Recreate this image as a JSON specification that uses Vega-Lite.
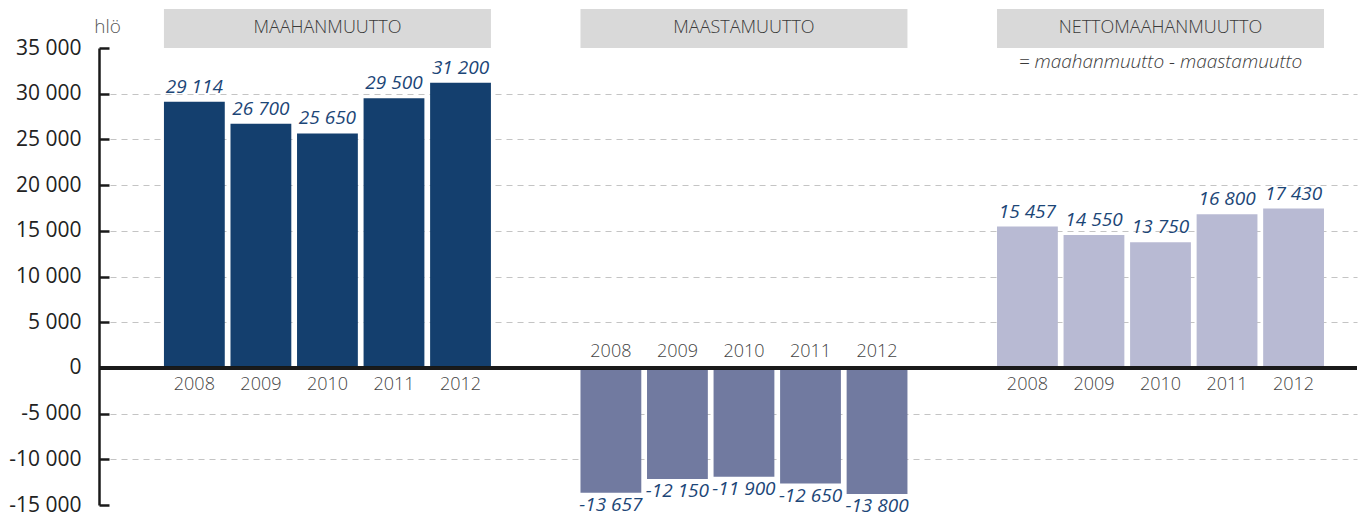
{
  "$schema": "https://vega.github.io/schema/vega-lite/v6.json",
  "autosize": {"type": "none"},
  "width": 1258,
  "height": 457,
  "padding": {"left": 99, "top": 48, "right": 7, "bottom": 15},
  "config": {
    "view": {"stroke": null},
    "font": "Open Sans",
    "locale": {"number": {"decimal": ",", "thousands": " ", "grouping": [3], "currency": ["", " €"], "minus": "-"}}
  },
  "datasets": {
    "bars": [
      {"group": "MAAHANMUUTTO", "year": "2008", "value": 29114},
      {"group": "MAAHANMUUTTO", "year": "2009", "value": 26700},
      {"group": "MAAHANMUUTTO", "year": "2010", "value": 25650},
      {"group": "MAAHANMUUTTO", "year": "2011", "value": 29500},
      {"group": "MAAHANMUUTTO", "year": "2012", "value": 31200},
      {"group": "MAASTAMUUTTO", "year": "2008", "value": -13657},
      {"group": "MAASTAMUUTTO", "year": "2009", "value": -12150},
      {"group": "MAASTAMUUTTO", "year": "2010", "value": -11900},
      {"group": "MAASTAMUUTTO", "year": "2011", "value": -12650},
      {"group": "MAASTAMUUTTO", "year": "2012", "value": -13800},
      {"group": "NETTOMAAHANMUUTTO", "year": "2008", "value": 15457},
      {"group": "NETTOMAAHANMUUTTO", "year": "2009", "value": 14550},
      {"group": "NETTOMAAHANMUUTTO", "year": "2010", "value": 13750},
      {"group": "NETTOMAAHANMUUTTO", "year": "2011", "value": 16800},
      {"group": "NETTOMAAHANMUUTTO", "year": "2012", "value": 17430}
    ],
    "groups": [
      {"group": "MAAHANMUUTTO", "sub": ""},
      {"group": "MAASTAMUUTTO", "sub": ""},
      {"group": "NETTOMAAHANMUUTTO", "sub": "= maahanmuutto - maastamuutto"}
    ]
  },
  "encoding": {
    "x": {
      "field": "group", "type": "nominal",
      "scale": {"domain": ["MAAHANMUUTTO", "MAASTAMUUTTO", "NETTOMAAHANMUUTTO"], "paddingInner": 0.215, "paddingOuter": 0.1176, "align": 0.663},
      "axis": null
    }
  },
  "layer": [
    {
      "data": {"name": "groups"},
      "mark": {"type": "rect", "color": "#d9d9d9"},
      "encoding": {
        "y": {"datum": 39270, "type": "quantitative", "scale": {"domain": [-15000, 35000]}},
        "y2": {"datum": 35000}
      }
    },
    {
      "data": {"name": "groups"},
      "mark": {"type": "text", "font": "Open Sans", "fontSize": 18, "fontWeight": 300, "color": "#3a3a3a", "baseline": "middle"},
      "encoding": {
        "y": {"datum": 37230, "type": "quantitative"},
        "text": {"field": "group"}
      }
    },
    {
      "data": {"name": "groups"},
      "mark": {"type": "text", "font": "Open Sans", "fontSize": 19, "fontStyle": "italic", "fontWeight": 300, "color": "#3a3a3a", "baseline": "middle"},
      "encoding": {
        "y": {"datum": 33470, "type": "quantitative"},
        "text": {"field": "sub"}
      }
    },
    {
      "data": {"name": "bars"},
      "mark": {"type": "bar"},
      "encoding": {
        "xOffset": {"field": "year", "type": "nominal", "scale": {"paddingInner": 0.086, "paddingOuter": 0}},
        "y": {
          "field": "value", "type": "quantitative",
          "scale": {"domain": [-15000, 35000], "nice": false, "zero": false},
          "axis": {
            "values": [-15000, -10000, -5000, 0, 5000, 10000, 15000, 20000, 25000, 30000, 35000],
            "format": ",d",
            "title": "hlö",
            "titleAngle": 0,
            "titleX": 8,
            "titleY": -22,
            "titleAlign": "center",
            "titleBaseline": "middle",
            "titleFont": "Open Sans",
            "titleFontSize": 19,
            "titleFontWeight": 300,
            "titleColor": "#555555",
            "labelFont": "Open Sans",
            "labelFontSize": 21,
            "labelColor": "#222222",
            "labelPadding": 28,
            "domainColor": "#1a1a1a",
            "domainWidth": 2.5,
            "tickColor": "#1a1a1a",
            "tickWidth": 2.5,
            "tickSize": -10,
            "tickOffset": 0,
            "grid": true,
            "gridColor": "#c4c4c4",
            "gridDash": [6, 5],
            "gridWidth": 1.2,
            "gridOpacity": {"condition": {"test": "datum.value == 35000 || datum.value == -15000 || datum.value == 0", "value": 0}, "value": 1}
          }
        },
        "color": {
          "field": "group", "type": "nominal",
          "scale": {"domain": ["MAAHANMUUTTO", "MAASTAMUUTTO", "NETTOMAAHANMUUTTO"], "range": ["#143f6e", "#717aa0", "#b8bad3"]},
          "legend": null
        }
      }
    },
    {
      "data": {"name": "bars"},
      "mark": {"type": "rule", "color": "#1a1a1a", "strokeWidth": 2.5},
      "encoding": {
        "y": {"datum": 0, "type": "quantitative"},
        "x": null
      }
    },
    {
      "data": {"name": "bars"},
      "transform": [{"filter": "datum.value > 0"}],
      "mark": {"type": "text", "fontSize": 18, "fontWeight": 300, "color": "#444444", "baseline": "middle", "dy": 17},
      "encoding": {
        "xOffset": {"field": "year", "type": "nominal"},
        "y": {"datum": 0, "type": "quantitative"},
        "text": {"field": "year"}
      }
    },
    {
      "data": {"name": "bars"},
      "transform": [{"filter": "datum.value < 0"}],
      "mark": {"type": "text", "fontSize": 18, "fontWeight": 300, "color": "#444444", "baseline": "middle", "dy": -16},
      "encoding": {
        "xOffset": {"field": "year", "type": "nominal"},
        "y": {"datum": 0, "type": "quantitative"},
        "text": {"field": "year"}
      }
    },
    {
      "data": {"name": "bars"},
      "transform": [{"filter": "datum.value > 0"}],
      "mark": {"type": "text", "fontSize": 19, "fontStyle": "italic", "color": "#1c4677", "baseline": "alphabetic", "dy": -9},
      "encoding": {
        "xOffset": {"field": "year", "type": "nominal"},
        "y": {"field": "value", "type": "quantitative"},
        "text": {"field": "value", "type": "quantitative", "format": ",d"}
      }
    },
    {
      "data": {"name": "bars"},
      "transform": [{"filter": "datum.value < 0"}],
      "mark": {"type": "text", "fontSize": 19, "fontStyle": "italic", "color": "#1c4677", "baseline": "top", "dy": 3},
      "encoding": {
        "xOffset": {"field": "year", "type": "nominal"},
        "y": {"field": "value", "type": "quantitative"},
        "text": {"field": "value", "type": "quantitative", "format": ",d"}
      }
    }
  ]
}
